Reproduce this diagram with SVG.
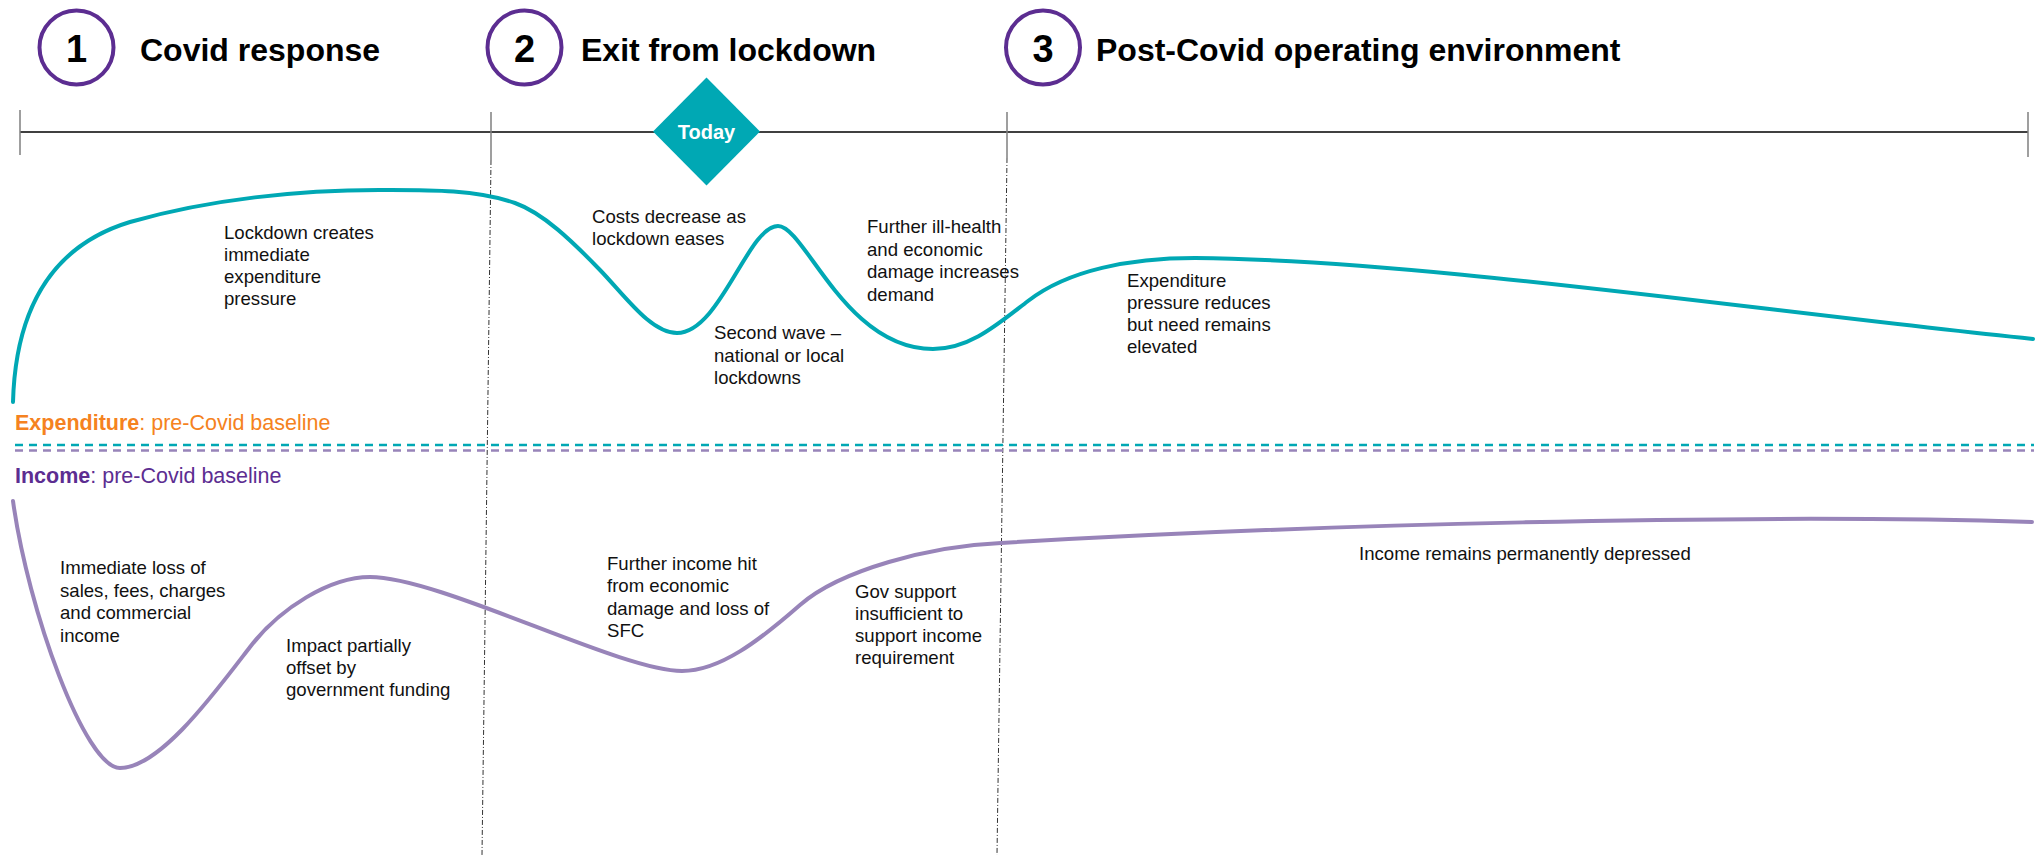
<svg xmlns="http://www.w3.org/2000/svg" width="2038" height="855" viewBox="0 0 2038 855">
<style>
  .num { font-family: "Liberation Sans", Arial, sans-serif; font-weight: bold; font-size: 38px; fill: #000; text-anchor: middle; }
  .head { font-family: "Liberation Sans", Arial, sans-serif; font-weight: bold; font-size: 32px; fill: #000; }
  .ring { fill: #fff; stroke: #5C2D91; stroke-width: 4; }
  .note { font-family: "Liberation Sans", Arial, sans-serif; font-size: 18.6px; fill: #111; }
  .base { font-family: "Liberation Sans", Arial, sans-serif; font-size: 21.5px; }
  .tick { stroke: #7f7f7f; stroke-width: 1.5; }
  .vdot { stroke: #333; stroke-width: 1; stroke-dasharray: 5 2 1 2; fill: none; }
  .exp { fill: none; stroke: #00A8B4; stroke-width: 4; stroke-linecap: round; }
  .inc { fill: none; stroke: #9884B9; stroke-width: 4; stroke-linecap: round; }
</style>
<rect width="2038" height="855" fill="#fff"/>

<g id="timeline">
  <line x1="20" y1="132" x2="2028" y2="132" stroke="#000" stroke-width="1.5"/>
  <line class="tick" x1="20" y1="110" x2="20" y2="155"/>
  <line class="tick" x1="491" y1="112" x2="491" y2="160"/>
  <line class="tick" x1="1007" y1="112" x2="1007" y2="158"/>
  <line class="tick" x1="2028" y1="112" x2="2028" y2="157"/>
  <line class="vdot" x1="491" y1="160" x2="482" y2="855"/>
  <line class="vdot" x1="1007" y1="158" x2="997" y2="855"/>
</g>

<g id="phase1">
  <circle class="ring" cx="76.5" cy="47.5" r="37"/>
  <text class="num" x="76.5" y="61.5">1</text>
  <text class="head" x="140" y="61">Covid response</text>
</g>
<g id="phase2">
  <circle class="ring" cx="524.5" cy="47.5" r="37"/>
  <text class="num" x="524.5" y="61.5">2</text>
  <text class="head" x="581" y="61">Exit from lockdown</text>
</g>
<g id="phase3">
  <circle class="ring" cx="1043" cy="47.5" r="37"/>
  <text class="num" x="1043" y="61.5">3</text>
  <text class="head" x="1096" y="61">Post-Covid operating environment</text>
</g>

<g id="today">
  <polygon points="706.5,77.5 760,131.5 706.5,185.5 653,131.5" fill="#00A8B4"/>
  <text x="706.5" y="139" text-anchor="middle" font-family="Liberation Sans, Arial, sans-serif" font-weight="bold" font-size="20px" fill="#fff">Today</text>
</g>

<g id="baselines">
  <line x1="15" y1="445" x2="2034" y2="445" stroke="#00A8B4" stroke-width="2.5" stroke-dasharray="8 6"/>
  <line x1="15" y1="450.5" x2="2034" y2="450.5" stroke="#9884B9" stroke-width="2.5" stroke-dasharray="8 6"/>
  <text class="base" x="15" y="430" fill="#F58220"><tspan font-weight="bold">Expenditure</tspan>: pre-Covid baseline</text>
  <text class="base" x="15" y="483" fill="#5C2D91"><tspan font-weight="bold">Income</tspan>: pre-Covid baseline</text>
</g>

<g id="curves">
  <path class="exp" d="M13,402 C15,330 38,250 130,222 C210,199 300,190 379,190 C425,190 475,189 515,203 C543,213 572,241 600,270 C626,297 651,333 677,333 C720,333 748,226 778,226 C805,226 845,349 933,349 C970,349 998,324 1028,301 C1068,270 1130,258 1195,258 C1420,260 1750,310 2033,339"/>
  <path class="inc" d="M13,501 C28,610 85,768 120,768 C160,768 215,692.5 250,647 C280,608 330,577 370,577 C440,577 620,671 682,671 C720,671 760,640 800,605 C840,570 930,546 1001,543 C1300,525 1750,513 2032,522"/>
</g>

<g id="expenditure-notes">
  <text class="note" x="224" y="239"><tspan x="224">Lockdown creates</tspan><tspan x="224" dy="22">immediate</tspan><tspan x="224" dy="22">expenditure</tspan><tspan x="224" dy="22">pressure</tspan></text>
  <text class="note" x="592" y="223"><tspan x="592">Costs decrease as</tspan><tspan x="592" dy="22">lockdown eases</tspan></text>
  <text class="note" x="714" y="339"><tspan x="714">Second wave –</tspan><tspan x="714" dy="22.5">national or local</tspan><tspan x="714" dy="22.5">lockdowns</tspan></text>
  <text class="note" x="867" y="233"><tspan x="867">Further ill-health</tspan><tspan x="867" dy="22.5">and economic</tspan><tspan x="867" dy="22.5">damage increases</tspan><tspan x="867" dy="22.5">demand</tspan></text>
  <text class="note" x="1127" y="286.5"><tspan x="1127">Expenditure</tspan><tspan x="1127" dy="22.3">pressure reduces</tspan><tspan x="1127" dy="22.3">but need remains</tspan><tspan x="1127" dy="22.3">elevated</tspan></text>
</g>

<g id="income-notes">
  <text class="note" x="60" y="574"><tspan x="60">Immediate loss of</tspan><tspan x="60" dy="22.5">sales, fees, charges</tspan><tspan x="60" dy="22.5">and commercial</tspan><tspan x="60" dy="22.5">income</tspan></text>
  <text class="note" x="286" y="652"><tspan x="286">Impact partially</tspan><tspan x="286" dy="22">offset by</tspan><tspan x="286" dy="22">government funding</tspan></text>
  <text class="note" x="607" y="569.5"><tspan x="607">Further income hit</tspan><tspan x="607" dy="22.5">from economic</tspan><tspan x="607" dy="22.5">damage and loss of</tspan><tspan x="607" dy="22.5">SFC</tspan></text>
  <text class="note" x="855" y="597.5"><tspan x="855">Gov support</tspan><tspan x="855" dy="22.3">insufficient to</tspan><tspan x="855" dy="22.3">support income</tspan><tspan x="855" dy="22.3">requirement</tspan></text>
  <text class="note" x="1359" y="560">Income remains permanently depressed</text>
</g>
</svg>
